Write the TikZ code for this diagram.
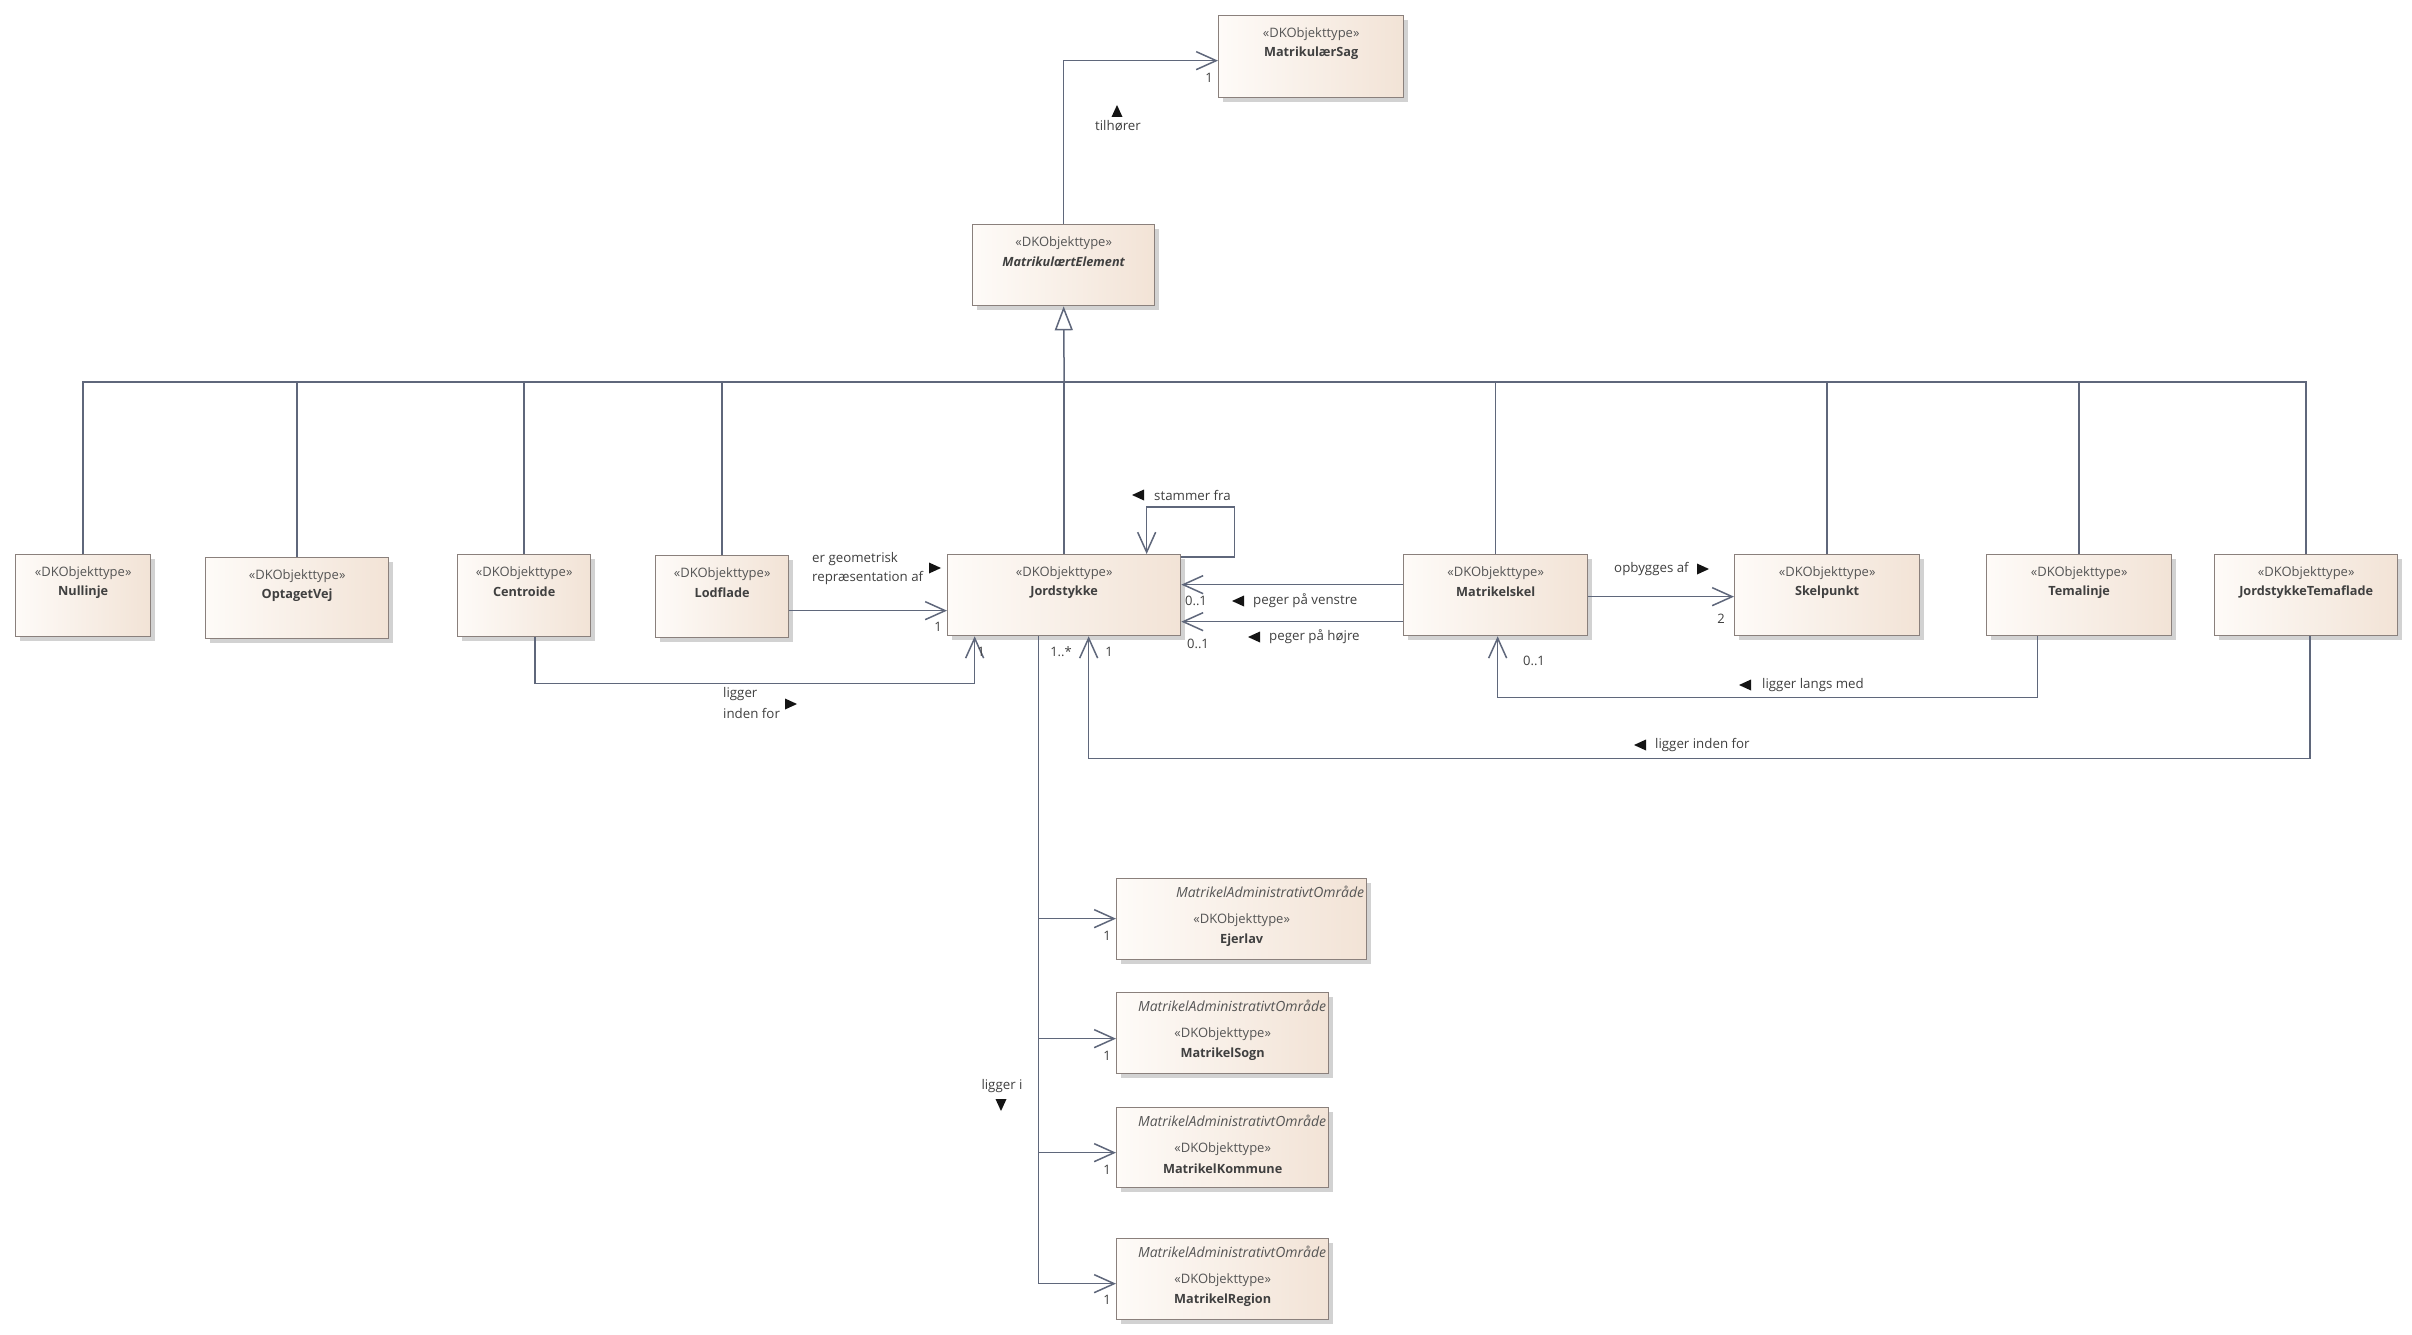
\documentclass[tikz,border=0pt]{standalone}
\usepackage{fontspec}
\setmainfont{Open Sans}
\usetikzlibrary{arrows.meta,shadows,calc}
\definecolor{lineC}{HTML}{5F677B}
\definecolor{borderC}{HTML}{8A807C}
\definecolor{boxL}{HTML}{FEFBF8}
\definecolor{boxR}{HTML}{F2E3D6}
\definecolor{shadowC}{HTML}{D2D2D2}
\definecolor{txtC}{HTML}{404040}
\definecolor{stC}{HTML}{555555}
\tikzset{
  cls/.style={rectangle, draw=borderC, line width=1.3pt, left color=boxL, right color=boxR,
    drop shadow={shadow xshift=4pt, shadow yshift=-4pt, fill=shadowC, opacity=1}, inner sep=0pt},
  stereo/.style={inner sep=0pt, text=stC, font=\fontsize{13}{15}\selectfont},
  cname/.style={inner sep=0pt, text=txtC, font=\fontsize{12.7}{15}\selectfont\bfseries},
  admname/.style={inner sep=0pt, text=stC, anchor=east, font=\fontsize{14}{16}\selectfont\itshape},
  lbl/.style={inner sep=0pt, text=txtC, anchor=west, font=\fontsize{13.3}{15}\selectfont},
  mult/.style={inner sep=0pt, text=txtC, font=\fontsize{13}{15}\selectfont},
  conn/.style={draw=lineC, line width=1.5pt},
  assoc/.style={conn, -{Straight Barb[length=20pt,width=18pt,line width=1.5pt]}},
  gen/.style={conn, -{Triangle[open,length=24pt,width=18pt,line width=1.5pt]}},
  dtri/.pic={\fill[black!92] (-6,-5.5) -- (6,0) -- (-6,5.5) -- cycle;}
}
\newcommand\dkcls[6]{%
  \node[cls, minimum width=#4pt, minimum height=#5pt, anchor=north west] (#1) at (#2,#3) {};
  \node[stereo] at ([yshift=-19pt]#1.north) {«DKObjekttype»};
  \node[cname] at ([yshift=-38pt]#1.north) {#6};}
\newcommand\dkadm[6]{%
  \node[cls, minimum width=#4pt, minimum height=#5pt, anchor=north west] (#1) at (#2,#3) {};
  \node[admname] at ([xshift=-3pt,yshift=-14pt]#1.north east) {MatrikelAdministrativtOmråde};
  \node[stereo] at ([yshift=-42pt]#1.north) {«DKObjekttype»};
  \node[cname] at ([yshift=-62pt]#1.north) {#6};}
\begin{document}
\begin{tikzpicture}[x=1pt,y=-1pt]
\useasboundingbox (0,0) rectangle (2412,1335);
\fill[white] (0,0) rectangle (2412,1335);

% classes
\dkcls{Sag}{1218}{15}{185}{82}{MatrikulærSag}
\node[cls, minimum width=182pt, minimum height=81pt, anchor=north west] (ME) at (972,224) {};
\node[stereo] at ([yshift=-19pt]ME.north) {«DKObjekttype»};
\node[cname, font=\fontsize{12.7}{15}\selectfont\bfseries\itshape] at ([yshift=-38pt]ME.north) {MatrikulærtElement};
\dkcls{Nullinje}{15}{554}{135}{82}{Nullinje}
\dkcls{OptagetVej}{205}{557}{183}{81}{OptagetVej}
\dkcls{Centroide}{457}{554}{133}{82}{Centroide}
\dkcls{Lodflade}{655}{555}{133}{82}{Lodflade}
\dkcls{Jordstykke}{947}{554}{233}{81}{Jordstykke}
\dkcls{Matrikelskel}{1403}{554}{184}{81}{Matrikelskel}
\dkcls{Skelpunkt}{1734}{554}{185}{81}{Skelpunkt}
\dkcls{Temalinje}{1986}{554}{185}{81}{Temalinje}
\dkcls{JTF}{2214}{554}{183}{81}{JordstykkeTemaflade}
\dkadm{Ejerlav}{1116}{878}{250}{81}{Ejerlav}
\dkadm{Sogn}{1116}{992}{212}{81}{MatrikelSogn}
\dkadm{Kommune}{1116}{1107}{212}{80}{MatrikelKommune}
\dkadm{Region}{1116}{1238}{212}{81}{MatrikelRegion}

% generalization bus
\coordinate (bus) at (0,382);
\draw[conn] (Nullinje.north) -- (Nullinje.north |- bus) -- (JTF.north |- bus) -- (JTF.north);
\foreach \n in {OptagetVej,Centroide,Lodflade,Matrikelskel,Skelpunkt,Temalinje}
  \draw[conn] (\n.north) -- (\n.north |- bus);
\draw[conn] (Jordstykke.north) -- (Jordstykke.north |- bus);
\draw[gen] (Jordstykke.north |- bus) -- (ME.south);

% tilhører
\draw[assoc] (ME.north) |- ([yshift=-4pt]Sag.west);
\node[mult] at (1209,78) {1};
\node[lbl, anchor=center] at (1118,126) {tilhører};
\pic[rotate=90] at (1117,111) {dtri};

% stammer fra (self loop)
\draw[assoc] ([yshift=-3pt]Jordstykke.north east) -- ++(53,0) -- ++(0,-50) -| ([xshift=82.5pt]Jordstykke.north);
\node[lbl] at (1154,495) {stammer fra};
\pic[rotate=180] at (1138,495) {dtri};

% Lodflade -> Jordstykke
\draw[assoc] ([yshift=-14pt]Lodflade.east) -- ([yshift=-14pt]Lodflade.east -| Jordstykke.west);
\node[lbl] at (812,559) {er geometrisk};
\node[lbl] at (812,578) {repræsentation af};
\pic at (935,568) {dtri};
\node[mult] at (938,627) {1};

% Centroide -> Jordstykke
\draw[assoc] ([xshift=11pt]Centroide.south) -- ++(0,46) -| ([xshift=-89.5pt]Jordstykke.south);
\node[lbl] at (723,694) {ligger};
\node[lbl] at (723,713) {inden for};
\pic at (791,704) {dtri};
\node[mult] at (981,652) {1};

% Matrikelskel -> Jordstykke
\draw[assoc] ([yshift=10.5pt]Matrikelskel.west) -- ([yshift=10.5pt]Matrikelskel.west -| Jordstykke.east);
\draw[assoc] ([yshift=-26.5pt]Matrikelskel.west) -- ([yshift=-26.5pt]Matrikelskel.west -| Jordstykke.east);
\node[mult] at (1196,601) {0..1};
\node[lbl] at (1253,601) {peger på venstre};
\pic[rotate=180] at (1238,601) {dtri};
\node[mult] at (1198,644) {0..1};
\node[lbl] at (1269,637) {peger på højre};
\pic[rotate=180] at (1254,637) {dtri};

% Matrikelskel -> Skelpunkt
\draw[assoc] ([yshift=-1.5pt]Matrikelskel.east) -- ([yshift=-1.5pt]Matrikelskel.east -| Skelpunkt.west);
\node[lbl] at (1614,569) {opbygges af};
\pic at (1703,569) {dtri};
\node[mult] at (1721,619) {2};

% Temalinje -> Matrikelskel
\draw[assoc] ([xshift=-41.5pt]Temalinje.south) -- ++(0,61) -| ([xshift=2pt]Matrikelskel.south);
\node[mult] at (1534,661) {0..1};
\node[lbl] at (1762,685) {ligger langs med};
\pic[rotate=180] at (1745,685) {dtri};

% JordstykkeTemaflade -> Jordstykke
\draw[assoc] ([xshift=4pt]JTF.south) -- ++(0,122) -| ([xshift=24.5pt]Jordstykke.south);
\node[mult] at (1109,652) {1};
\node[lbl] at (1655,745) {ligger inden for};
\pic[rotate=180] at (1640,745) {dtri};

% ligger i
\coordinate (li) at ([xshift=-25.5pt]Jordstykke.south);
\coordinate (a1) at ([yshift=0.5pt]Ejerlav.west);
\coordinate (a2) at ([yshift=-5.5pt]Sogn.west);
\coordinate (a3) at ([yshift=-5pt]Kommune.west);
\coordinate (a4) at ([yshift=-4.5pt]Region.west);
\draw[conn] (li) -- (li |- a4);
\foreach \a in {a1,a2,a3,a4} \draw[assoc] (li |- \a) -- (\a);
\node[mult] at (1061,652) {1..*};
\node[mult] at (1107,936) {1};
\node[mult] at (1107,1056) {1};
\node[mult] at (1107,1170) {1};
\node[mult] at (1107,1300) {1};
\node[lbl, anchor=center] at (1002,1086) {ligger i};
\pic[rotate=270] at (1001,1105) {dtri};
\end{tikzpicture}
\end{document}
